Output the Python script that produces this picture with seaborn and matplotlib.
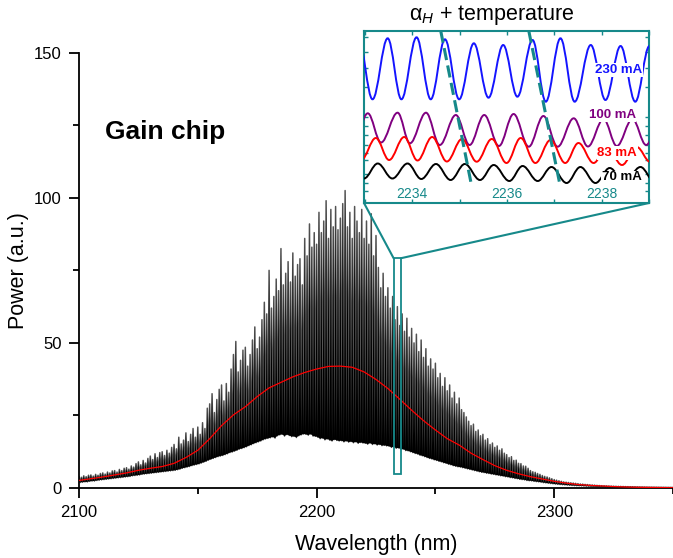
import numpy as np
import matplotlib
matplotlib.use("Agg")
import matplotlib.pyplot as plt
import seaborn as sns
from matplotlib.path import Path
from matplotlib.patches import PathPatch, Rectangle, ConnectionPatch

# ---------------------------------------------------------------- main spectrum
# longitudinal-mode maxima (every 1 nm) and the minima between them
peak_wl = np.arange(2100, 2351, 1)
peak_pw = [
    4.0, 3.7, 4.2, 3.9, 4.4, 4.5, 4.1, 4.7, 4.4, 5.0,            # 2100
    5.2, 4.8, 5.5, 5.2, 5.9, 6.0, 5.5, 6.4, 6.0, 6.8,            # 2110
    7.0, 6.5, 7.6, 7.2, 8.4, 9.0, 8.0, 9.5, 8.6, 10.2,           # 2120
    11.0, 9.8, 11.8, 10.5, 12.2, 12.5, 11.2, 13.0, 12.0, 14.0,   # 2130
    15.0, 13.5, 17.5, 15.2, 16.5, 19.0, 16.0, 18.5, 20.5, 17.5,  # 2140
    21.0, 18.5, 22.5, 20.5, 27.5, 29.0, 32.5, 26.0, 30.5, 34.0,  # 2150
    35.5, 30.0, 36.0, 33.0, 41.0, 46.0, 50.5, 40.0, 44.0, 47.5,  # 2160
    48.5, 42.0, 46.0, 51.0, 55.5, 48.0, 52.0, 58.0, 64.0, 60.0,  # 2170
    75.0, 62.0, 66.0, 72.0, 68.0, 82.5, 70.0, 74.0, 78.0, 71.0,  # 2180
    81.0, 73.0, 77.0, 79.0, 70.0, 86.0, 80.0, 91.0, 83.0, 88.0,  # 2190
    84.0, 95.0, 88.0, 92.0, 99.0, 86.0, 96.0, 90.0, 97.0, 89.0,  # 2200
    93.0, 98.0, 102.5, 90.0, 95.0, 86.0, 97.0, 92.0, 88.0, 96.0, # 2210
    86.0, 92.0, 84.0, 94.5, 80.0, 87.0, 76.0, 69.0, 74.0, 66.0,  # 2220
    69.0, 62.0, 66.0, 58.0, 62.5, 56.0, 60.0, 54.0, 58.5, 52.0,  # 2230
    55.0, 50.0, 53.0, 47.0, 51.0, 45.0, 48.0, 42.0, 44.5, 41.0,  # 2240
    43.0, 38.0, 39.5, 35.0, 38.0, 33.5, 35.5, 31.0, 33.0, 29.0,  # 2250
    31.0, 27.0, 26.0, 24.5, 23.0, 21.5, 22.0, 19.5, 20.0, 18.0,  # 2260
    18.5, 16.5, 17.0, 15.0, 15.5, 14.0, 14.5, 13.0, 13.5, 12.0,  # 2270
    11.5, 10.5, 10.8, 9.5, 9.6, 8.5, 8.4, 7.6, 7.5, 6.8,         # 2280
    6.0, 5.6, 5.4, 5.0, 4.7, 4.3, 4.0, 3.8, 3.5, 3.2,            # 2290
    2.9, 2.7, 2.5, 2.3, 2.1, 2.0, 1.9, 1.8, 1.7, 1.6,            # 2300
    1.5, 1.4, 1.35, 1.25, 1.2, 1.1, 1.05, 1.0, 0.92, 0.86,       # 2310
    0.8, 0.76, 0.72, 0.68, 0.65, 0.62, 0.6, 0.57, 0.55, 0.52,    # 2320
    0.5, 0.48, 0.46, 0.44, 0.42, 0.4, 0.38, 0.36, 0.34, 0.32,    # 2330
    0.3, 0.29, 0.28, 0.27, 0.26, 0.25, 0.24, 0.23, 0.22, 0.21,   # 2340
    0.2,                                                         # 2350
]
trough_wl = np.arange(2100.5, 2350, 1)
trough_pw = [
    1.9, 2.0, 2.1, 2.1, 2.3, 2.4, 2.4, 2.6, 2.7, 2.8,            # 2100.5
    2.9, 3.0, 3.1, 3.2, 3.3, 3.4, 3.5, 3.6, 3.7, 3.8,            # 2110.5
    3.9, 4.0, 4.2, 4.3, 4.4, 4.5, 4.7, 4.8, 4.9, 5.0,            # 2120.5
    5.1, 5.2, 5.3, 5.4, 5.5, 5.6, 5.7, 5.8, 5.9, 6.0,            # 2130.5
    6.1, 6.3, 6.5, 6.8, 7.0, 7.2, 7.4, 7.7, 7.9, 8.1,            # 2140.5
    8.3, 8.6, 8.9, 9.2, 9.6, 9.9, 10.2, 10.5, 10.8, 11.0,        # 2150.5
    11.2, 11.5, 11.8, 12.2, 12.4, 12.7, 13.0, 13.4, 13.6, 13.9,  # 2160.5
    14.2, 14.6, 14.9, 15.3, 15.6, 15.9, 16.2, 16.6, 16.9, 17.1,  # 2170.5
    17.3, 17.6, 17.2, 18.0, 18.3, 18.5, 17.9, 18.4, 18.1, 17.7,  # 2180.5
    17.8, 17.4, 18.0, 18.3, 18.6, 18.5, 18.2, 18.6, 17.9, 17.8,  # 2190.5
    17.5, 17.0, 17.2, 16.6, 16.9, 16.5, 16.2, 16.7, 16.4, 16.2,  # 2200.5
    16.3, 15.9, 16.2, 15.8, 16.0, 15.6, 15.9, 15.4, 15.7, 15.5,  # 2210.5
    15.4, 15.1, 15.5, 15.0, 15.2, 14.8, 15.0, 14.6, 14.7, 14.5,  # 2220.5
    14.4, 14.0, 14.2, 13.7, 13.8, 13.3, 13.4, 12.9, 12.8, 12.5,  # 2230.5
    12.2, 11.9, 11.7, 11.3, 11.1, 10.8, 10.5, 10.2, 10.0, 9.7,   # 2240.5
    9.5, 9.2, 9.0, 8.7, 8.5, 8.2, 8.0, 7.7, 7.5, 7.3,            # 2250.5
    7.2, 7.0, 6.8, 6.6, 6.4, 6.2, 6.0, 5.8, 5.6, 5.4,            # 2260.5
    5.3, 5.1, 5.0, 4.8, 4.7, 4.5, 4.4, 4.2, 4.1, 3.9,            # 2270.5
    3.8, 3.6, 3.5, 3.3, 3.2, 3.0, 2.9, 2.8, 2.6, 2.5,            # 2280.5
    2.45, 2.3, 2.2, 2.1, 2.0, 1.85, 1.75, 1.65, 1.55, 1.45,      # 2290.5
    1.35, 1.28, 1.2, 1.13, 1.06, 1.0, 0.94, 0.88, 0.83, 0.78,    # 2300.5
    0.75, 0.71, 0.67, 0.63, 0.6, 0.56, 0.53, 0.5, 0.47, 0.44,    # 2310.5
    0.42, 0.4, 0.38, 0.36, 0.34, 0.33, 0.31, 0.3, 0.28, 0.27,    # 2320.5
    0.26, 0.25, 0.24, 0.23, 0.22, 0.21, 0.2, 0.2, 0.19, 0.19,    # 2330.5
    0.18, 0.18, 0.17, 0.17, 0.16, 0.16, 0.16, 0.15, 0.15, 0.15,  # 2340.5
]

# smoothed spectrum (red)
mean_wl = np.arange(2100, 2351, 5)
mean_pw = [
    2.6, 3.2, 3.8, 4.5, 5.2, 6.1, 6.8, 7.4, 8.5, 10.5,
    13.0, 17.0, 21.5, 25.2, 28.0, 31.5, 34.5, 36.4, 38.3, 39.8,
    41.0, 41.9, 42.0, 41.6, 40.0, 37.4, 34.3, 30.6, 26.8, 23.2,
    20.0, 17.0, 14.8, 12.0, 9.8, 7.7, 6.1, 4.9, 3.9, 3.1,
    2.3, 1.7, 1.2, 0.9, 0.7, 0.5, 0.35, 0.25, 0.2, 0.15, 0.1,
]

# zoomed window marked on the spectrum
zoom_wl = (2232.4, 2235.6)
zoom_pw = (4.8, 79.2)

# ---------------------------------------------------------------- inset traces
# extrema of the fringes for each drive current (offset intensity, a.u.)
traces = {
    "230 mA": dict(
        color="#1414ff",
        wl=[2232.86, 2233.16, 2233.48, 2233.77, 2234.09, 2234.39, 2234.69, 2234.99,
            2235.30, 2235.61, 2235.92, 2236.22, 2236.54, 2236.82, 2237.13, 2237.43,
            2237.77, 2238.08, 2238.40, 2238.71, 2239.01, 2239.30],
        y=[165, 103.7, 164.7, 103.7, 165.7, 103.7, 163.7, 103.7, 159.7, 105.3, 158,
           106.3, 163, 101.3, 164.7, 101.3, 158, 103, 157, 101.3, 157, 101],
        label_at=(2238.36, 133)),
    "100 mA": dict(
        color="#800080",
        wl=[2232.75, 2233.06, 2233.34, 2233.69, 2233.95, 2234.29, 2234.58, 2234.92,
            2235.21, 2235.52, 2235.83, 2236.14, 2236.46, 2236.77, 2237.07, 2237.41,
            2237.71, 2238.04, 2238.32, 2238.65, 2238.94, 2239.24],
        y=[58, 89.7, 60.5, 90.3, 59.7, 90.3, 58, 88, 58, 88, 57, 89, 56.3, 87, 56.3,
           84.7, 56.5, 84, 57, 84, 58, 84],
        label_at=(2238.22, 88)),
    "83 mA": dict(
        color="#ff0000",
        wl=[2232.92, 2233.23, 2233.51, 2233.83, 2234.11, 2234.42, 2234.73, 2235.05,
            2235.36, 2235.68, 2235.99, 2236.29, 2236.60, 2236.92, 2237.23, 2237.51,
            2237.83, 2238.11, 2238.43, 2238.74, 2239.03],
        y=[43, 65, 43, 66, 42.5, 66, 41.5, 64, 41.3, 64, 40, 65, 40, 63, 40, 60, 40,
           56, 38, 56, 41],
        label_at=(2238.33, 50)),
    "70 mA": dict(
        color="#000000",
        wl=[2232.98, 2233.27, 2233.58, 2233.90, 2234.19, 2234.50, 2234.81, 2235.11,
            2235.43, 2235.72, 2236.05, 2236.33, 2236.65, 2236.94, 2237.26, 2237.55,
            2237.87, 2238.17, 2238.48, 2238.82, 2239.12],
        y=[24.5, 39.5, 24.5, 39.5, 24, 39, 23, 39, 23, 38, 22, 37, 22, 36, 20, 36, 20,
           35, 21, 36, 21],
        label_at=(2238.42, 25.5)),
}

# guide lines following one fringe across the currents
guide_lines = [
    ([2234.60, 2235.24], [172.3, 20.3]),
    ([2236.46, 2237.12], [172.3, 18.0]),
]
inset_yticks = [166.3, 150.7, 134.7, 116.3, 86.3, 77, 68, 58, 49.7, 43, 29, 19.7, 12.3]

TEAL = "#16898a"

sns.set_style("ticks")
plt.rcParams["font.family"] = ["Liberation Sans", "DejaVu Sans"]
plt.rcParams["mathtext.fontset"] = "custom"
plt.rcParams["mathtext.rm"] = "Liberation Sans"
plt.rcParams["mathtext.it"] = "Liberation Sans:italic"
for key in ("text.color", "axes.labelcolor", "xtick.color", "ytick.color",
            "axes.edgecolor"):
    plt.rcParams[key] = "black"

W, H = 673, 558
fig = plt.figure(figsize=(W / 100, H / 100), dpi=100)
ax = fig.add_axes([79 / W, 70 / H, 594 / W, 435.3 / H])

# spectrum: fringes as a filled zigzag between minima and maxima
peak_wl_a = np.asarray(peak_wl, float)
trough_wl_a = np.asarray(trough_wl, float)
x_zig = np.empty(peak_wl_a.size + trough_wl_a.size)
y_zig = np.empty_like(x_zig)
x_zig[0::2], x_zig[1::2] = peak_wl_a, trough_wl_a
y_zig[0::2], y_zig[1::2] = peak_pw, trough_pw
sns.lineplot(x=x_zig, y=y_zig, sort=False, estimator=None, color="#555555",
             lw=1.1, ax=ax, zorder=2)
ax.fill(np.concatenate([x_zig, trough_wl_a[::-1]]),
        np.concatenate([y_zig, np.asarray(trough_pw)[::-1]]),
        color="black", lw=0, zorder=3)
sns.lineplot(x=mean_wl, y=mean_pw, color="red", lw=0.9, ax=ax, zorder=4)

ax.set_xlim(2100, 2350)
ax.set_ylim(0, 150)
ax.set_xticks([2100, 2200, 2300])
ax.set_xticks([2150, 2250, 2350], minor=True)
ax.set_yticks([0, 50, 100, 150])
ax.set_yticks([25, 75, 125], minor=True)
sns.despine(ax=ax)
for s in ("left", "bottom"):
    ax.spines[s].set_linewidth(1.3)
ax.tick_params(which="major", length=7, width=1.3, labelsize=12, pad=5.5)
ax.tick_params(which="minor", length=4.5, width=1.3)
ax.set_xlabel("Wavelength (nm)", fontsize=15.5, labelpad=10)
ax.set_ylabel("Power (a.u.)", fontsize=15.5, labelpad=3.5)
ax.text(2110.9, 122.7, "Gain chip", fontsize=19, fontweight="bold",
        ha="left", va="center")

ax.add_patch(Rectangle((zoom_wl[0], zoom_pw[0]), zoom_wl[1] - zoom_wl[0],
                       zoom_pw[1] - zoom_pw[0], fill=False, ec=TEAL, lw=1.3, zorder=6))

# ---------------------------------------------------------------- inset
axi = fig.add_axes([364 / W, (H - 203) / H, 285 / W, 172.3 / H])
axi.set_xlim(2232.98, 2239.0)
axi.set_ylim(0, 172.3)


def fringe_path(xs, ys, k=0.364):
    verts = [(xs[0], ys[0])]
    codes = [Path.MOVETO]
    for x0, y0, x1, y1 in zip(xs[:-1], ys[:-1], xs[1:], ys[1:]):
        dx = x1 - x0
        verts += [(x0 + k * dx, y0), (x1 - k * dx, y1), (x1, y1)]
        codes += [Path.CURVE4] * 3
    return Path(verts, codes)


for name, tr in traces.items():
    axi.add_patch(PathPatch(fringe_path(tr["wl"], tr["y"]), fill=False,
                            ec=tr["color"], lw=1.4, zorder=3))
    axi.text(*tr["label_at"], name, color=tr["color"], fontsize=9.5,
             fontweight="bold", ha="center", va="center", zorder=5,
             bbox=dict(fc="white", ec="none", pad=0.5))

for gx, gy in guide_lines:
    axi.plot(gx, gy, color=TEAL, lw=2.2, ls=(0, (4, 1.8)), zorder=4)

axi.set_xticks([2234, 2236, 2238])
axi.set_xticks([2233, 2235, 2237, 2239], minor=True)
axi.set_yticks(inset_yticks)
axi.tick_params(axis="x", which="both", direction="in", top=True, bottom=True,
                colors=TEAL, labelsize=10, pad=-11.5, length=3, width=1)
axi.tick_params(axis="y", which="both", direction="in", left=True, right=True,
                labelleft=False, colors=TEAL, length=3, width=1)
for s in axi.spines.values():
    s.set_color(TEAL)
    s.set_linewidth(1.5)
axi.text(0.447, 1.091, "α$_{H}$ + temperature", transform=axi.transAxes,
         ha="center", va="center", fontsize=15.5)

for (xa, xb) in ((zoom_wl[0], 0), (zoom_wl[1], 1)):
    fig.add_artist(ConnectionPatch(xyA=(xa, zoom_pw[1]), coordsA=ax.transData,
                                   xyB=(xb, 0), coordsB=axi.transAxes,
                                   color=TEAL, lw=1.5, zorder=7))

fig.savefig("out.png", dpi=100)
